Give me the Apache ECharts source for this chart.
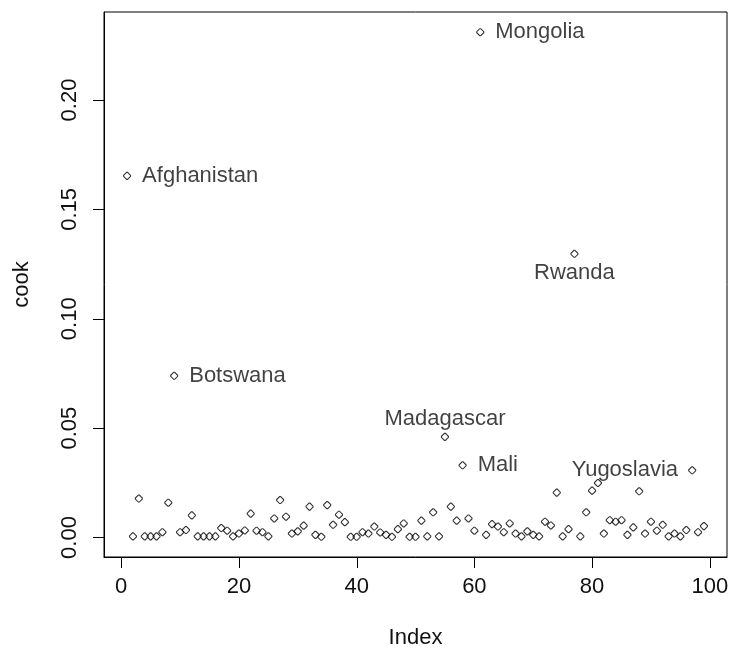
<!DOCTYPE html>
<html>
<head>
<meta charset="utf-8">
<script src="https://cdn.jsdelivr.net/npm/echarts@6/dist/echarts.min.js"></script>
<style>
html,body{margin:0;padding:0;background:#fff;}
#chart{width:729px;height:658px;}
</style>
</head>
<body>
<div id="chart"></div>
<script>
// Cook's distance by observation index (1..99)
const cook = [
  0.1653, 0.0005, 0.0178, 0.0005, 0.0005, 0.0005, 0.0024, 0.0159, 0.0739, 0.0024,
  0.0034, 0.0101, 0.0005, 0.0005, 0.0005, 0.0005, 0.0043, 0.0031, 0.0005, 0.0018,
  0.0032, 0.0109, 0.0031, 0.0024, 0.0005, 0.0087, 0.0171, 0.0095, 0.0018, 0.0028,
  0.0054, 0.0141, 0.0012, 0.0003, 0.0148, 0.0058, 0.0104, 0.0070, 0.0003, 0.0003,
  0.0024, 0.0018, 0.0050, 0.0023, 0.0012, 0.0003, 0.0038, 0.0064, 0.0003, 0.0003,
  0.0077, 0.0005, 0.0115, 0.0005, 0.0460, 0.0141, 0.0077, 0.0330, 0.0087, 0.0031,
  0.2310, 0.0012, 0.0061, 0.0050, 0.0024, 0.0064, 0.0018, 0.0005, 0.0028, 0.0012,
  0.0005, 0.0072, 0.0055, 0.0205, 0.0005, 0.0038, 0.1297, 0.0005, 0.0115, 0.0214,
  0.0249, 0.0018, 0.0079, 0.0072, 0.0079, 0.0012, 0.0046, 0.0211, 0.0018, 0.0072,
  0.0031, 0.0058, 0.0005, 0.0018, 0.0005, 0.0034, 0.0307, 0.0024, 0.0052
];
// Labelled observations
const labelIndex = [1, 9, 55, 58, 61, 77, 97];
const labelNames = ["Afghanistan", "Botswana", "Madagascar", "Mali", "Mongolia", "Rwanda", "Yugoslavia"];
const labelSide  = ["right", "right", "top", "right", "right", "bottom", "left"];
// Axis ticks
const xTicks = [0, 20, 40, 60, 80, 100];
const yTicks = [0, 0.05, 0.10, 0.15, 0.20];

const FONT = "'Liberation Sans', Arial, sans-serif";
const TXT = '#111';
const FS = 22;
const TICK_LEN = 11;

const n = cook.length;
const xMin = 1 - 0.04 * (n - 1), xMax = n + 0.04 * (n - 1);
const yLo = Math.min(...cook), yHi = Math.max(...cook);
const yMin = yLo - 0.04 * (yHi - yLo), yMax = yHi + 0.04 * (yHi - yLo);

const sideDist = {right: 11, left: 10, top: 3, bottom: 4};
const data = cook.map((v, i) => {
  const idx = i + 1;
  const k = labelIndex.indexOf(idx);
  const d = {value: [idx, v]};
  if (k >= 0) {
    d.label = {show: true, formatter: labelNames[k], position: labelSide[k], distance: sideDist[labelSide[k]]};
  }
  return d;
});

const chart = echarts.init(document.getElementById('chart'), null, {renderer: 'canvas'});
chart.setOption({
  animation: false,
  backgroundColor: '#fff',
  grid: {left: 104, right: 2, top: 12, bottom: 101, containLabel: false, outerBoundsMode: 'none',
         show: true, borderColor: '#000', borderWidth: 1, backgroundColor: 'transparent'},
  xAxis: {
    type: 'value', min: xMin, max: xMax,
    name: 'Index', nameLocation: 'middle', nameGap: 70,
    nameTextStyle: {fontFamily: FONT, fontSize: FS, color: TXT},
    axisLine: {show: true, onZero: false, lineStyle: {color: '#000', width: 1}},
    axisTick: {show: false},
    axisLabel: {show: true, customValues: xTicks, margin: 19, fontFamily: FONT, fontSize: FS, color: TXT, formatter: v => String(v)},
    splitLine: {show: false}
  },
  yAxis: {
    type: 'value', min: yMin, max: yMax,
    name: 'cook', nameLocation: 'middle', nameGap: 71, nameRotate: 90,
    nameTextStyle: {fontFamily: FONT, fontSize: FS, color: TXT},
    axisLine: {show: true, onZero: false, lineStyle: {color: '#000', width: 1}},
    axisTick: {show: false},
    axisLabel: {show: true, customValues: yTicks, rotate: 90, margin: 23, fontFamily: FONT, fontSize: FS, color: TXT, formatter: v => v.toFixed(2)},
    splitLine: {show: false}
  },
  series: [{
    type: 'scatter',
    data: data,
    symbol: 'path://M3,0 L4,0 L7,3 L7,4 L4,7 L3,7 L0,4 L0,3 Z',
    symbolSize: 7,
    itemStyle: {color: 'transparent', borderColor: '#000', borderWidth: 1.1},
    label: {show: false, fontFamily: FONT, fontSize: FS, color: TXT},
    emphasis: {disabled: true}
  }]
});

// Outward tick marks: positions come from the chart's own axis scales
const tickEls = [];
xTicks.forEach(v => {
  const p = chart.convertToPixel({gridIndex: 0}, [v, yMin]);
  const x = Math.round(p[0]) + 0.5, y = Math.round(p[1]);
  tickEls.push({type: 'line', silent: true, z: 100,
    shape: {x1: x, y1: y, x2: x, y2: y + TICK_LEN},
    style: {stroke: '#000', lineWidth: 1}});
});
yTicks.forEach(v => {
  const p = chart.convertToPixel({gridIndex: 0}, [xMin, v]);
  const x = Math.round(p[0]), y = Math.round(p[1]) + 0.5;
  tickEls.push({type: 'line', silent: true, z: 100,
    shape: {x1: x, y1: y, x2: x - TICK_LEN, y2: y},
    style: {stroke: '#000', lineWidth: 1}});
});
chart.setOption({graphic: {elements: tickEls}});
</script>
</body>
</html>
